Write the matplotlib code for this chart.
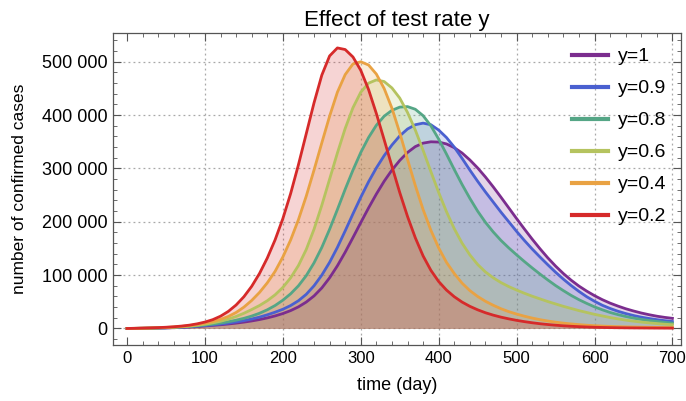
import matplotlib
matplotlib.use("Agg")
import matplotlib.pyplot as plt
from matplotlib.ticker import MultipleLocator, FuncFormatter

plt.rcParams['font.family'] = ['Liberation Sans', 'DejaVu Sans']

days = list(range(0, 701, 10))

y_1 = [0, 120, 250, 450, 700, 1000, 1450, 2000, 2700, 3600,
       4700, 5800, 7000, 8400, 10000, 11900, 14100, 16700, 19800, 23500,
       28000, 33500, 40500, 49500, 61000, 76000, 95000, 117500, 143000, 170500,
       198500, 226000, 252000, 276000, 297000, 315000, 330000, 341000, 347500, 350000,
       349500, 346000, 339000, 329000, 316000, 301000, 284000, 265500, 246000, 226000,
       206000, 186500, 167500, 149500, 132500, 117000, 103000, 90500, 79500, 70000,
       61500, 54000, 47500, 42000, 37000, 32800, 29000, 25800, 23000, 20800, 19000]
y_09 = [0, 150, 300, 500, 800, 1200, 1700, 2400, 3200, 4300,
        5500, 6800, 8300, 10100, 12200, 14700, 17700, 21300, 25600, 30500,
        36000, 43000, 52000, 64000, 80000, 100000, 124000, 152000, 183000, 215000,
        246000, 275000, 301000, 324000, 344000, 361000, 374000, 382000, 385000, 382000,
        372000, 358000, 340000, 319000, 297000, 276000, 256000, 237000, 218000, 200000,
        182000, 165000, 149000, 134000, 119500, 105500, 92500, 80500, 69500, 59500,
        51000, 43500, 37500, 32300, 28000, 24300, 21200, 18700, 16500, 14600, 13000]
y_08 = [0, 150, 300, 550, 900, 1400, 2000, 2800, 3800, 5000,
        6500, 8200, 10200, 12600, 15500, 19000, 23300, 28500, 35000, 43000,
        53000, 65000, 80000, 99000, 123000, 152000, 186000, 223000, 261000, 297000,
        330000, 358000, 381000, 398000, 409000, 415000, 416000, 411000, 399000, 380000,
        355000, 327000, 298000, 270000, 244000, 220000, 199000, 181000, 165000, 151000,
        138000, 125500, 113500, 102000, 91000, 80500, 71000, 62000, 54000, 47000,
        40500, 35000, 30000, 26000, 22500, 19500, 17000, 15000, 13200, 11500, 10000]
y_06 = [0, 200, 400, 700, 1100, 1600, 2300, 3200, 4400, 6000,
        8000, 10500, 13500, 17500, 22500, 28500, 35500, 43000, 52000, 63000,
        77000, 95000, 118000, 148000, 186000, 231000, 280000, 329000, 375000, 414000,
        443000, 460000, 466000, 463000, 451000, 432000, 405000, 372000, 334000, 294000,
        255000, 219000, 187000, 160000, 138000, 120000, 106000, 95000, 86000, 78500,
        72000, 66000, 60500, 55500, 50500, 46000, 41500, 37500, 33500, 30000,
        26500, 23500, 20500, 18000, 15700, 13700, 12000, 10500, 9200, 8000, 7000]
y_04 = [0, 250, 550, 900, 1350, 1900, 2700, 3800, 5300, 7300,
        10000, 13000, 17000, 22500, 30000, 40000, 52500, 67500, 85500, 107000,
        134000, 166000, 204000, 248000, 297000, 348000, 398000, 443000, 476000, 496000,
        500000, 494000, 477000, 450000, 413000, 367000, 317000, 268000, 223000, 184000,
        151000, 124000, 103000, 85000, 71000, 60000, 51000, 43500, 37000, 31500,
        27000, 23000, 19500, 16500, 14000, 11800, 10000, 8500, 7200, 6100,
        5200, 4500, 3900, 3400, 3000, 2700, 2400, 2200, 2000, 1850, 1700]
y_02 = [0, 300, 700, 1100, 1600, 2300, 3200, 4500, 6200, 8700,
        12000, 16500, 23000, 32000, 44000, 59500, 79000, 103000, 132000, 166000,
        206000, 253000, 307000, 365000, 423000, 475000, 511000, 526000, 523000, 509000,
        484000, 448000, 403000, 354000, 304000, 255000, 210000, 170000, 136000, 109000,
        88000, 72000, 59500, 49500, 41500, 35000, 29500, 25000, 21200, 18000,
        15200, 12800, 10700, 8900, 7400, 6100, 5000, 4100, 3400, 2800,
        2300, 1900, 1600, 1350, 1150, 1000, 900, 800, 700, 650, 600]

labels = ["y=1", "y=0.9", "y=0.8", "y=0.6", "y=0.4", "y=0.2"]
series = [y_1, y_09, y_08, y_06, y_04, y_02]
colors = ["#7b2d8e", "#4a60d0", "#55a686", "#b5c35f", "#e9a243", "#d62a2a"]

fig = plt.figure(figsize=(6.86, 4.01), dpi=100)
ax = fig.add_axes([113 / 686, 56 / 401, 568 / 686, 312 / 401])

for ys, c in zip(series, colors):
    ax.fill_between(days, 0, ys, color=c, alpha=0.2, linewidth=0)
for ys, c, lab in zip(series, colors, labels):
    ax.plot(days, ys, color=c, lw=2.0, label=lab, solid_joinstyle='round')

ax.set_xlim(-18, 711)
ax.set_ylim(-31000, 554000)
ax.xaxis.set_major_locator(MultipleLocator(100))
ax.xaxis.set_minor_locator(MultipleLocator(20))
ax.yaxis.set_major_locator(MultipleLocator(100000))
ax.yaxis.set_minor_locator(MultipleLocator(20000))
ax.yaxis.set_major_formatter(FuncFormatter(lambda v, p: f"{int(v):,}".replace(",", " ")))

ax.tick_params(which='both', direction='in', top=True, right=True, color='#555555')
ax.tick_params(which='major', length=6, width=0.8, pad=4)
ax.tick_params(axis='y', which='major', labelsize=13)
ax.tick_params(axis='x', which='major', labelsize=12)
ax.tick_params(which='minor', length=3, width=0.6)
for s in ax.spines.values():
    s.set_color('#555555')
    s.set_linewidth(0.9)

grid_style = dict(color='#a8a8a8', linestyle=(0, (1.5, 2.5)), linewidth=0.9, zorder=0)
ax.grid(True, axis='y', which='major', **{k: v for k, v in grid_style.items() if k != 'zorder'})
for gx in range(100, 701, 100):
    ax.axvline(gx, **grid_style)
ax.set_axisbelow(True)

ax.set_title("Effect of test rate y", fontsize=16, pad=5)
ax.set_xlabel("time (day)", fontsize=13, labelpad=8)
ax.set_ylabel("number of confirmed cases", fontsize=12.5, labelpad=11)

leg = ax.legend(loc='upper right', bbox_to_anchor=(0.993, 0.987), frameon=False, fontsize=14,
                handlelength=1.85, handletextpad=0.5, labelspacing=0.74,
                borderaxespad=0.25, borderpad=0.3)
for h in leg.get_lines():
    h.set_linewidth(3)

fig.savefig("out.png", dpi=100)
